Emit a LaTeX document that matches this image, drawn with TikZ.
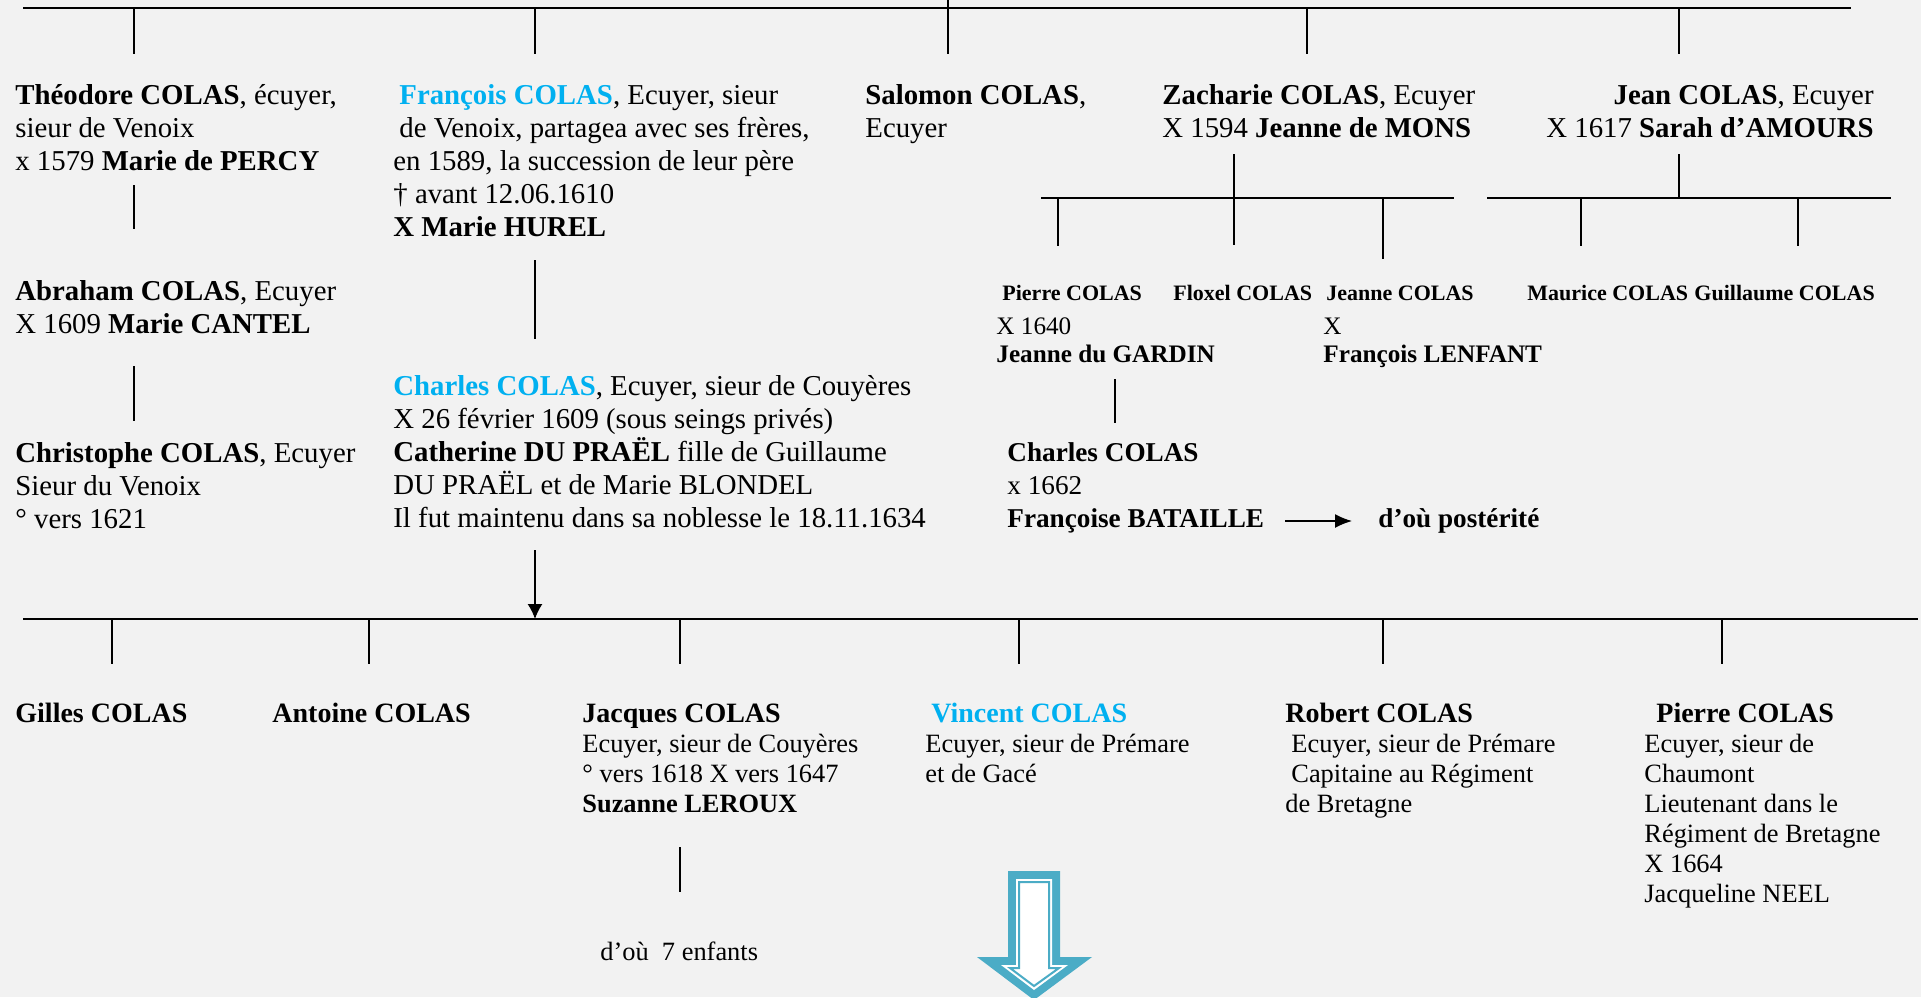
\documentclass[tikz,border=0pt]{standalone}
\usepackage{fontspec}
\setmainfont{Liberation Serif}
\usetikzlibrary{arrows.meta}
\definecolor{bggray}{RGB}{242,242,242}
\definecolor{colblue}{RGB}{0,176,240}
\definecolor{colteal}{RGB}{75,172,198}
\tikzstyle{bus} = [line width=1.1pt]
\tikzstyle{link} = [line width=0.75pt]
\tikzstyle{arrow} = [line width=0.75pt,-{Latex[length=7.5pt,width=7.5pt]}]
% nodes are placed at the baseline of their last line
\tikzstyle{person} = [inner sep=0pt,anchor=base west,align=left,font=\fontsize{14.4}{16.5}\selectfont]
\tikzstyle{child} = [inner sep=0pt,anchor=base west,align=left,font=\fontsize{13.2}{15}\selectfont]
\tikzstyle{small} = [inner sep=0pt,anchor=base west,align=left,font=\fontsize{12.6}{14}\selectfont]
\tikzstyle{smallname} = [inner sep=0pt,anchor=base west,font=\fontsize{11}{13}\selectfont\bfseries]
\newcommand{\bnom}[1]{{\fontsize{14}{15}\selectfont\bfseries #1}}

\begin{document}
\begin{tikzpicture}[x=0.5pt,y=-0.5pt]
\fill[bggray] (0,0) rectangle (1921,997);
\useasboundingbox (0,0) rectangle (1921,997);

% Top generation
\coordinate (busA-w) at (23,8);
\coordinate (busA-e) at (1851,8);
\coordinate (busA-in) at (948,0);
\draw[bus] (busA-w) -- (busA-e);
\foreach \x [count=\i] in {134,535,948,1307,1679}
  \coordinate (tkA\i) at (\x,54);
\draw[link] (busA-in) -- (tkA3);
\foreach \i in {1,2,4,5}
  \draw[link] (tkA\i |- busA-w) -- (tkA\i);

\node[person] (theodore) at (15,170) {\textbf{Théodore COLAS}, écuyer,\\sieur de Venoix\\x 1579 \textbf{Marie de PERCY}};
\node[person] (francois) at (393,236) {\hspace*{3pt}\textcolor{colblue}{\textbf{François COLAS}}, Ecuyer, sieur\\\hspace*{3pt}de Venoix, partagea avec ses frères,\\en 1589, la succession de leur père\\† avant 12.06.1610\\\textbf{X Marie HUREL}};
\node[person] (salomon) at (865,137) {\textbf{Salomon COLAS},\\Ecuyer};
\node[person] (zacharie) at (1162,137) {\textbf{Zacharie COLAS}, Ecuyer\\X 1594 \textbf{Jeanne de MONS}};
\node[person,anchor=base east,align=right] (jean) at (1874,137) {\textbf{Jean COLAS}, Ecuyer\\X 1617 \textbf{Sarah d’AMOURS}};

% Left line
\coordinate (theo-dn) at (134,185);
\coordinate (abra-up) at (134,229);
\coordinate (abra-dn) at (134,366);
\coordinate (chri-up) at (134,421);
\draw[link] (theo-dn) -- (abra-up);
\draw[link] (abra-dn) -- (chri-up);
\node[person] (abraham) at (15,333) {\textbf{Abraham COLAS}, Ecuyer\\X 1609 \textbf{Marie CANTEL}};
\node[person] (christophe) at (15,528) {\textbf{Christophe COLAS}, Ecuyer\\Sieur du Venoix\\° vers 1621};

% Francois -> Charles
\coordinate (fran-dn) at (535,260);
\coordinate (char-up) at (535,339);
\draw[link] (fran-dn) -- (char-up);
\node[person] (charles) at (393,527) {\textcolor{colblue}{\textbf{Charles COLAS}}, Ecuyer, sieur de Couyères\\X 26 février 1609 (sous seings privés)\\\textbf{Catherine DU PRAËL} fille de Guillaume\\DU PRAËL et de Marie BLONDEL\\Il fut maintenu dans sa noblesse le 18.11.1634};

% Zacharie's children
\coordinate (busZ-in) at (1234,154);
\coordinate (busZ-w) at (1041,198);
\coordinate (busZ-e) at (1454,198);
\draw[bus] (busZ-w) -- (busZ-e);
\coordinate (tkZ1) at (1058,246);
\coordinate (tkZ2) at (1234,245);
\coordinate (tkZ3) at (1383,259);
\draw[link] (busZ-in) -- (tkZ2);
\draw[link] (tkZ1 |- busZ-w) -- (tkZ1);
\draw[link] (tkZ3 |- busZ-w) -- (tkZ3);

% Jean's children
\coordinate (busJ-in) at (1679,154);
\coordinate (busJ-w) at (1487,198);
\coordinate (busJ-e) at (1891,198);
\draw[bus] (busJ-w) -- (busJ-e);
\coordinate (tkJ1) at (1581,246);
\coordinate (tkJ2) at (1798,246);
\draw[link] (busJ-in) -- (busJ-in |- busJ-w);
\draw[link] (tkJ1 |- busJ-w) -- (tkJ1);
\draw[link] (tkJ2 |- busJ-w) -- (tkJ2);

\node[smallname] (pierreA) at (1002,300) {Pierre COLAS};
\node[smallname] (floxel) at (1173,300) {Floxel COLAS};
\node[smallname] (jeanneA) at (1326,300) {Jeanne COLAS};
\node[smallname] (maurice) at (1527,300) {Maurice COLAS};
\node[smallname] (guillaume) at (1694,300) {Guillaume COLAS};
\node[small] (pierreA-d) at (996,362) {X 1640\\\textbf{Jeanne du GARDIN}};
\node[small] (jeanneA-d) at (1323,362) {X\\\textbf{François LENFANT}};

% Pierre -> Charles
\coordinate (pier-dn) at (1115,379);
\coordinate (chb-up) at (1115,423);
\draw[link] (pier-dn) -- (chb-up);
\node[person,font=\fontsize{13.6}{16.5}\selectfont] (charlesB) at (1007,527) {\textbf{Charles COLAS}\\x 1662\\\textbf{Françoise BATAILLE}};
\coordinate (post-a) at (1285,521);
\coordinate (post-b) at (1352,521);
\draw[line width=0.75pt,-{Latex[length=8.5pt,width=7pt]}] (post-a) -- (post-b);
\node[person,font=\fontsize{13.6}{16.5}\selectfont\bfseries] (posterite) at (1378,527) {d’où postérité};

% Bottom generation
\coordinate (busC-w) at (23,619);
\coordinate (busC-e) at (1918,619);
\coordinate (char-dn) at (535,550);
\draw[bus] (busC-w) -- (busC-e);
\draw[arrow] (char-dn) -- (char-dn |- busC-w);
\foreach \x [count=\i] in {112,369,680,1019,1383,1722}
  \coordinate (tkC\i) at (\x,664);
\foreach \i in {1,...,6}
  \draw[link] (tkC\i |- busC-w) -- (tkC\i);

\node[child] (gilles) at (15,722) {\bnom{Gilles COLAS}};
\node[child] (antoine) at (272,722) {\bnom{Antoine COLAS}};
\node[child] (jacques) at (582,812) {\bnom{Jacques COLAS}\\Ecuyer, sieur de Couyères\\° vers 1618 X vers 1647\\\textbf{Suzanne LEROUX}};
\node[child] (vincent) at (925,782) {\hspace*{3pt}\textcolor{colblue}{\bnom{Vincent COLAS}}\\Ecuyer, sieur de Prémare\\et de Gacé};
\node[child] (robert) at (1285,812) {\bnom{Robert COLAS}\\\hspace*{3pt}Ecuyer, sieur de Prémare\\\hspace*{3pt}Capitaine au Régiment\\de Bretagne};
\node[child] (pierreB) at (1644,902) {\hspace*{6pt}\bnom{Pierre COLAS}\\Ecuyer, sieur de\\Chaumont\\Lieutenant dans le\\Régiment de Bretagne\\X 1664\\Jacqueline NEEL};

% Jacques -> enfants
\coordinate (jacq-dn) at (680,847);
\coordinate (enf-up) at (680,892);
\draw[link] (jacq-dn) -- (enf-up);
\node[child] (enfants) at (600,960) {d’où\ \ 7 enfants};

% Big arrow
\fill[colteal] (1008,871) -- (1060,871) -- (1060,957) -- (1092,957) -- (1034,1000) -- (977,957) -- (1008,957) -- cycle;
\fill[white] (1016,879) -- (1052,879) -- (1052,965) -- (1068,965) -- (1034,990) -- (1001,965) -- (1016,965) -- cycle;
\draw[colteal,line width=1pt,fill=white] (1019,882) -- (1049,882) -- (1049,968) -- (1059,968) -- (1034,986) -- (1010,968) -- (1019,968) -- cycle;
\end{tikzpicture}
\end{document}
